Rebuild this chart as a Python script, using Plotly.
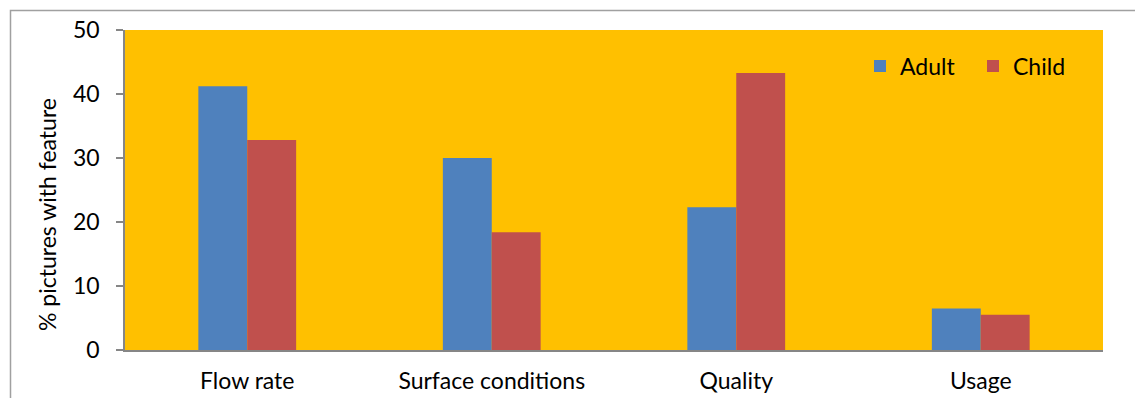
import plotly.graph_objects as go

categories = ["Flow rate", "Surface conditions", "Quality", "Usage"]
adult = [41.2, 30.0, 22.3, 6.5]
child = [32.8, 18.4, 43.3, 5.5]
y_ticks = [0, 10, 20, 30, 40, 50]

FONT = "Lato"
FS = 23
W, H = 1135, 398
ML, MR, MT, MB = 125, 32, 30, 48
PW, PH = W - ML - MR, H - MT - MB


def px_x(p):
    return (p - ML) / PW


def px_y(p):
    return (H - MB - p) / PH


fig = go.Figure()
fig.add_trace(go.Bar(name="Adult", x=categories, y=adult, marker=dict(color="#4F81BD", line=dict(width=0))))
fig.add_trace(go.Bar(name="Child", x=categories, y=child, marker=dict(color="#C0504D", line=dict(width=0))))

fig.update_layout(
    width=W, height=H,
    margin=dict(l=ML, r=MR, t=MT, b=MB, autoexpand=False),
    paper_bgcolor="white",
    plot_bgcolor="#FFC000",
    barmode="group",
    bargap=0.6,
    bargroupgap=0,
    font=dict(family=FONT, size=FS, color="black"),
    showlegend=True,
    legend=dict(
        orientation="h",
        x=px_x(860), y=px_y(66), xanchor="left", yanchor="middle",
        bgcolor="rgba(0,0,0,0)",
        font=dict(family=FONT, size=FS),
        itemwidth=30,
        entrywidth=68, entrywidthmode="pixels",
    ),
)

fig.update_xaxes(
    showline=True, linecolor="#868686", linewidth=2,
    ticks="", showgrid=False, ticklabelstandoff=9, automargin=False,
    tickfont=dict(family=FONT, size=FS),
)
fig.update_yaxes(
    range=[0, 50], tickvals=y_ticks,
    showline=True, linecolor="#868686", linewidth=1.5,
    ticks="outside", ticklen=7, tickcolor="#868686", tickwidth=1.5,
    showgrid=False, zeroline=False, ticklabelstandoff=12, automargin=False,
    tickfont=dict(family=FONT, size=FS),
)

fig.add_annotation(
    text="% pictures with feature", textangle=-90,
    xref="paper", yref="paper", x=px_x(47), y=px_y(215),
    xanchor="center", yanchor="middle", showarrow=False,
    font=dict(family=FONT, size=FS),
)

# outer chart frame
fig.add_shape(
    type="rect", xref="paper", yref="paper",
    x0=px_x(10.5), y0=px_y(405), x1=px_x(1145), y1=px_y(10.5),
    line=dict(color="#A0A0A0", width=1.5), fillcolor="rgba(0,0,0,0)", layer="below",
)

fig.write_html("out.html")
